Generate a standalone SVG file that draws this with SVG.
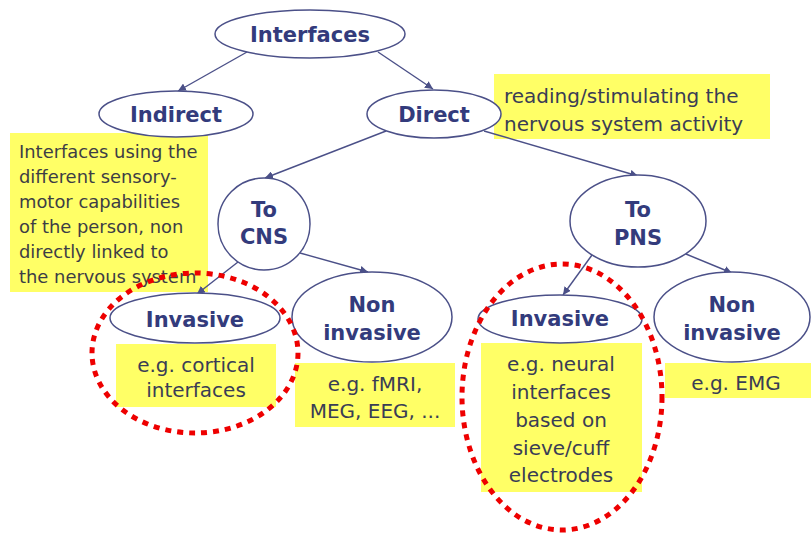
<svg xmlns="http://www.w3.org/2000/svg" width="811" height="533" viewBox="0 0 811 533">
  <defs>
    <marker id="arrow" viewBox="0 0 10 10" refX="10" refY="5" markerWidth="8" markerHeight="8" markerUnits="userSpaceOnUse" orient="auto">
      <path d="M0,0 L10,5 L0,10 z" fill="#4b5088"/>
    </marker>
  </defs>
  <style>
    .node { fill: #ffffff; stroke: #4b5088; stroke-width: 1.5; }
    .label { font-family: "DejaVu Sans", Verdana, sans-serif; font-weight: bold; font-size: 21px; fill: #333b7c; text-anchor: middle; }
    .note { fill: #ffff66; }
    .note-text { font-family: "DejaVu Sans", Verdana, sans-serif; font-size: 20px; fill: #3a3d55; }
    .small { font-size: 17.9px; fill: #3d3d45; }
    .mid { text-anchor: middle; }
    .edge { stroke: #4b5088; stroke-width: 1.4; fill: none; marker-end: url(#arrow); }
    .ring { fill: none; stroke: #ee0000; stroke-width: 5; stroke-dasharray: 6 6; }
  </style>
  <rect width="811" height="533" fill="#ffffff"/>

  <!-- notes -->
  <g id="note-direct">
    <rect class="note" x="494" y="74" width="276" height="65"/>
    <text class="note-text" x="504" y="103">reading/stimulating the</text>
    <text class="note-text" x="504" y="131">nervous system activity</text>
  </g>
  <g id="note-indirect">
    <rect class="note" x="10" y="133" width="198" height="159"/>
    <text class="note-text small" x="19" y="158">Interfaces using the</text>
    <text class="note-text small" x="19" y="183">different sensory-</text>
    <text class="note-text small" x="19" y="208">motor capabilities</text>
    <text class="note-text small" x="19" y="233">of the person, non</text>
    <text class="note-text small" x="19" y="258">directly linked to</text>
    <text class="note-text small" x="19" y="283">the nervous system</text>
  </g>
  <g id="note-cns-invasive">
    <rect class="note" x="116" y="344" width="160" height="63"/>
    <text class="note-text mid" x="196" y="372">e.g. cortical</text>
    <text class="note-text mid" x="196" y="397">interfaces</text>
  </g>
  <g id="note-cns-noninvasive">
    <rect class="note" x="295" y="363" width="160" height="64"/>
    <text class="note-text mid" x="375" y="391">e.g. fMRI,</text>
    <text class="note-text mid" x="375" y="418">MEG, EEG, ...</text>
  </g>
  <g id="note-pns-invasive">
    <rect class="note" x="481" y="343" width="161" height="149"/>
    <text class="note-text mid" x="561" y="371">e.g. neural</text>
    <text class="note-text mid" x="561" y="399">interfaces</text>
    <text class="note-text mid" x="561" y="427">based on</text>
    <text class="note-text mid" x="561" y="455">sieve/cuff</text>
    <text class="note-text mid" x="561" y="482">electrodes</text>
  </g>
  <g id="note-pns-noninvasive">
    <rect class="note" x="665" y="363" width="146" height="35"/>
    <text class="note-text mid" x="736" y="390">e.g. EMG</text>
  </g>

  <!-- connectors -->
  <g id="connectors">
    <line class="edge" x1="247" y1="52" x2="178" y2="91"/>
    <line class="edge" x1="378" y1="52" x2="433" y2="89"/>
    <line class="edge" x1="386" y1="131" x2="265" y2="178"/>
    <line class="edge" x1="484" y1="131" x2="638" y2="176"/>
    <line class="edge" x1="238" y1="262" x2="197" y2="294"/>
    <line class="edge" x1="300" y1="253" x2="368" y2="272"/>
    <line class="edge" x1="592" y1="255" x2="563" y2="295"/>
    <line class="edge" x1="686" y1="254" x2="732" y2="273"/>
  </g>

  <!-- nodes -->
  <g id="interfaces">
    <ellipse class="node" cx="310" cy="34" rx="95" ry="24"/>
    <text class="label" x="310" y="42">Interfaces</text>
  </g>
  <g id="indirect">
    <ellipse class="node" cx="176" cy="114" rx="77" ry="23"/>
    <text class="label" x="176" y="122">Indirect</text>
  </g>
  <g id="direct">
    <ellipse class="node" cx="434" cy="114" rx="67" ry="24"/>
    <text class="label" x="434" y="122">Direct</text>
  </g>
  <g id="to-cns">
    <ellipse class="node" cx="264" cy="224" rx="46" ry="46"/>
    <text class="label" x="264" y="217">To</text>
    <text class="label" x="264" y="244">CNS</text>
  </g>
  <g id="to-pns">
    <ellipse class="node" cx="638" cy="221" rx="68" ry="46"/>
    <text class="label" x="638" y="217">To</text>
    <text class="label" x="638" y="245">PNS</text>
  </g>
  <g id="cns-invasive">
    <ellipse class="node" cx="195" cy="318" rx="85" ry="25"/>
    <text class="label" x="195" y="327">Invasive</text>
  </g>
  <g id="cns-noninvasive">
    <ellipse class="node" cx="372" cy="317" rx="80" ry="45"/>
    <text class="label" x="372" y="312">Non</text>
    <text class="label" x="372" y="340">invasive</text>
  </g>
  <g id="pns-invasive">
    <ellipse class="node" cx="560" cy="319" rx="82" ry="24"/>
    <text class="label" x="560" y="326">Invasive</text>
  </g>
  <g id="pns-noninvasive">
    <ellipse class="node" cx="732" cy="317" rx="78" ry="45"/>
    <text class="label" x="732" y="312">Non</text>
    <text class="label" x="732" y="340">invasive</text>
  </g>

  <!-- highlight rings -->
  <g id="highlights">
    <ellipse class="ring" cx="195" cy="353" rx="103" ry="80"/>
    <ellipse class="ring" cx="562" cy="397" rx="100" ry="133"/>
  </g>
</svg>
